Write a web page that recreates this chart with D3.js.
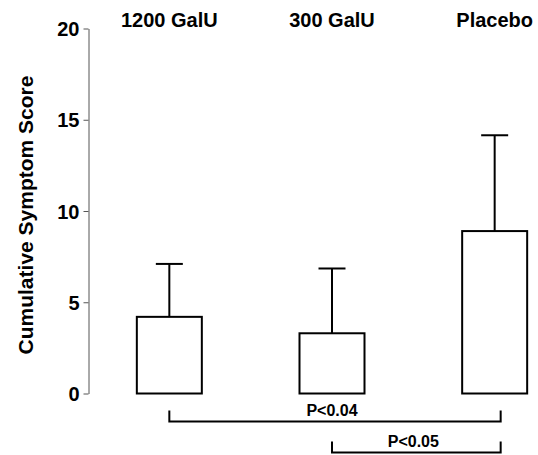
<!DOCTYPE html>
<html>
<head>
<meta charset="utf-8">
<script src="https://cdn.jsdelivr.net/npm/d3@7"></script>
<style>
  body { margin: 0; background: #fff; }
  text { font-family: "Liberation Sans", Arial, sans-serif; font-weight: bold; fill: #000; }
</style>
</head>
<body>
<div id="chart"></div>
<script>
const width = 538;
const height = 455;

// data
const groups = ["1200 GalU", "300 GalU", "Placebo"];
const means = [4.2, 3.3, 8.9];
const errorTops = [7.1, 6.85, 14.15];
const yTicks = [0, 5, 10, 15, 20];
const comparisons = [
    {from: "1200 GalU", to: "Placebo", label: "P<0.04"},
    {from: "300 GalU", to: "Placebo", label: "P<0.05"}
];

const svg = d3.select('#chart')
    .append('svg')
    .attr('width', width)
    .attr('height', height);

const x = d3.scalePoint()
    .domain(groups)
    .range([88, 576])
    .padding(0.5);

const y = d3.scaleLinear()
    .domain([0, 20])
    .range([393.5, 28.5]);

const barWidth = 65;
const capWidth = 27;

// y axis
const yAxis = svg.append('g')
    .attr('transform', 'translate(88.5,0)')
    .call(d3.axisLeft(y).tickValues(yTicks).tickSize(5).tickSizeOuter(0).tickPadding(4));
yAxis.select('.domain').attr('stroke', '#555');
yAxis.selectAll('.tick line').attr('stroke', '#555');
yAxis.selectAll('.tick text')
    .style('font-size', '20px')
    .attr('dy', '0.36em');

svg.append('text')
    .attr('transform', 'translate(33,215) rotate(-90)')
    .attr('text-anchor', 'middle')
    .style('font-size', '21px')
    .text('Cumulative Symptom Score');

// group labels on top
svg.selectAll('.group-label')
    .data(groups)
    .enter().append('text')
    .attr('class', 'group-label')
    .attr('x', d => x(d))
    .attr('y', 26.5)
    .attr('text-anchor', 'middle')
    .style('font-size', '20px')
    .text(d => d);

// error bars (upper only)
const err = svg.selectAll('.err')
    .data(groups)
    .enter().append('g')
    .attr('class', 'err')
    .attr('stroke', '#000')
    .attr('stroke-width', 2);

err.append('line')
    .attr('x1', d => x(d))
    .attr('x2', d => x(d))
    .attr('y1', (d, i) => y(means[i]))
    .attr('y2', (d, i) => y(errorTops[i]));

err.append('line')
    .attr('x1', d => x(d) - capWidth / 2)
    .attr('x2', d => x(d) + capWidth / 2)
    .attr('y1', (d, i) => y(errorTops[i]))
    .attr('y2', (d, i) => y(errorTops[i]));

// bars
svg.selectAll('.bar')
    .data(groups)
    .enter().append('rect')
    .attr('class', 'bar')
    .attr('x', d => x(d) - barWidth / 2)
    .attr('width', barWidth)
    .attr('y', (d, i) => y(means[i]))
    .attr('height', (d, i) => y(0) - y(means[i]))
    .attr('fill', '#fff')
    .attr('stroke', '#000')
    .attr('stroke-width', 2);

// significance brackets under the axis
const bracket = svg.selectAll('.bracket')
    .data(comparisons)
    .enter().append('g')
    .attr('class', 'bracket');

const bracketY = i => y(0) + 28 + i * 31;

bracket.append('path')
    .attr('d', (d, i) => {
        const x1 = x(d.from), x2 = x(d.to) + 6, yy = bracketY(i);
        return `M${x1},${yy - 11}V${yy}H${x2}V${yy - 11}`;
    })
    .attr('fill', 'none')
    .attr('stroke', '#000')
    .attr('stroke-width', 2);

bracket.append('text')
    .attr('x', d => (x(d.from) + x(d.to) + 6) / 2 - 3)
    .attr('y', (d, i) => bracketY(i) - 6)
    .attr('text-anchor', 'middle')
    .style('font-size', '16px')
    .text(d => d.label);
</script>
</body>
</html>
